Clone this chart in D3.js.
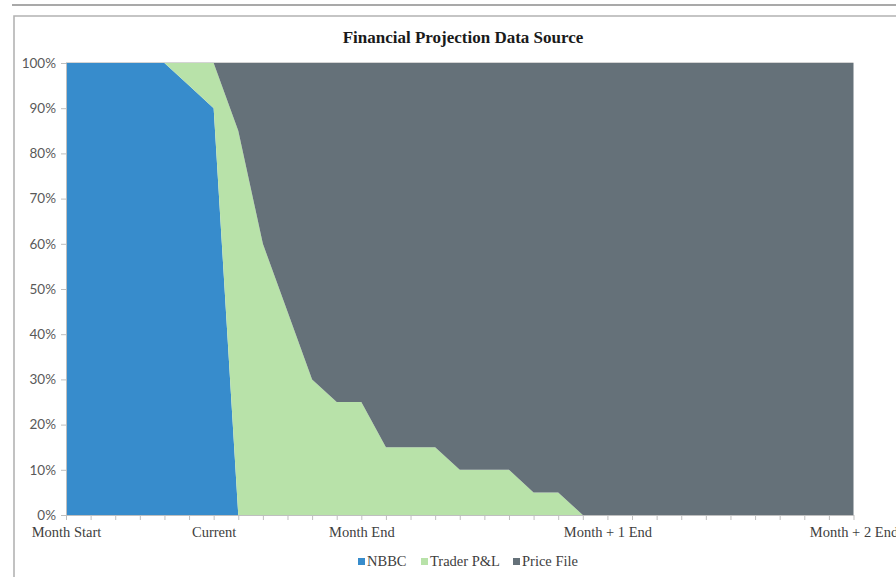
<!DOCTYPE html>
<html>
<head>
<meta charset="utf-8">
<script src="https://cdn.jsdelivr.net/npm/d3@7"></script>
<style>
  html, body { margin: 0; padding: 0; background: #fff; }
  svg { display: block; }
</style>
</head>
<body>
<svg id="chart" width="896" height="577"></svg>
<script>
// Timeline points (33 evenly spaced periods) and their axis labels
const periods = d3.range(33);
const periodLabels = [
  "Month Start", "", "", "", "", "", "Current", "", "", "", "", "",
  "Month End", "", "", "", "", "", "", "", "", "", "Month + 1 End",
  "", "", "", "", "", "", "", "", "", "Month + 2 End"
];

// Share of projection data coming from each source (%)
const nbbc = [100,100,100,100,100,95,90,0,0,0,0,0,0,0,0,0,0,0,0,0,0,0,0,0,0,0,0,0,0,0,0,0,0];
const traderPL = [0,0,0,0,0,5,10,85,60,45,30,25,25,15,15,15,10,10,10,5,5,0,0,0,0,0,0,0,0,0,0,0,0];
const priceFile = [0,0,0,0,0,0,0,15,40,55,70,75,75,85,85,85,90,90,90,95,95,100,100,100,100,100,100,100,100,100,100,100,100];

const seriesNames = ["NBBC", "Trader P&L", "Price File"];
const seriesColors = ["#378ccc", "#b8e2a9", "#657179"];
const yTicks = [0, 10, 20, 30, 40, 50, 60, 70, 80, 90, 100];

const svg = d3.select("#chart");
const W = 896, H = 577;
const plot = { left: 66, right: 853.5, top: 63, bottom: 515 };

// Outer frame
svg.append("line")
  .attr("x1", 12).attr("x2", W).attr("y1", 5).attr("y2", 5)
  .attr("stroke", "#a9a9a9").attr("stroke-width", 2);
svg.append("path")
  .attr("d", `M${W + 5},16 H14 V${H + 5}`)
  .attr("fill", "none").attr("stroke", "#b3b3b3").attr("stroke-width", 1.6);

// Title
svg.append("text")
  .attr("x", 463).attr("y", 43)
  .attr("text-anchor", "middle")
  .attr("font-family", "'Liberation Serif', 'DejaVu Serif', serif")
  .attr("font-weight", "bold")
  .attr("font-size", 17)
  .attr("fill", "#1a1a1a")
  .text("Financial Projection Data Source");

const x = d3.scalePoint().domain(periods).range([plot.left, plot.right]);
const y = d3.scaleLinear().domain([0, 100]).range([plot.bottom, plot.top]);

// Stack the three sources
const rows = periods.map(i => ({
  i, "NBBC": nbbc[i], "Trader P&L": traderPL[i], "Price File": priceFile[i]
}));
const stacked = d3.stack().keys(seriesNames)(rows);

const area = d3.area()
  .x(d => x(d.data.i))
  .y0(d => y(d[0]))
  .y1(d => y(d[1]))
  .curve(d3.curveLinear);

svg.append("g")
  .selectAll("path")
  .data(stacked)
  .join("path")
  .attr("d", area)
  .attr("fill", (d, k) => seriesColors[k]);

// Top border of the plot area
svg.append("line")
  .attr("x1", plot.left).attr("x2", plot.right)
  .attr("y1", y(100) - 0.5).attr("y2", y(100) - 0.5)
  .attr("stroke", "#d4d4d4").attr("stroke-width", 1);

// Y axis
const yAxis = d3.axisLeft(y)
  .tickValues(yTicks)
  .tickSize(5)
  .tickPadding(5)
  .tickFormat(d => d + "%");
const yG = svg.append("g")
  .attr("transform", `translate(${plot.left},0)`)
  .call(yAxis);
yG.select(".domain").attr("stroke", "#bfbfbf");
yG.selectAll(".tick line").attr("stroke", "#bfbfbf");
yG.selectAll(".tick text")
  .attr("font-family", "Lato, 'Open Sans', sans-serif")
  .attr("font-size", 13.5)
  .attr("fill", "#595959");

// X axis
const xAxis = d3.axisBottom(x)
  .tickSize(5)
  .tickPadding(7)
  .tickSizeOuter(0)
  .tickFormat(i => periodLabels[i]);
const xG = svg.append("g")
  .attr("transform", `translate(0,${plot.bottom})`)
  .call(xAxis);
xG.select(".domain").attr("stroke", "#bfbfbf");
xG.selectAll(".tick line").attr("stroke", "#bfbfbf");
xG.selectAll(".tick text")
  .attr("font-family", "'Liberation Serif', 'DejaVu Serif', serif")
  .attr("font-size", 14.5)
  .attr("fill", "#404040");

// Legend
const legendX = [358, 421, 513];
const legend = svg.append("g");
seriesNames.forEach((name, k) => {
  legend.append("rect")
    .attr("x", legendX[k]).attr("y", 558)
    .attr("width", 7).attr("height", 7)
    .attr("fill", seriesColors[k]);
  legend.append("text")
    .attr("x", legendX[k] + 9).attr("y", 566)
    .attr("font-family", "'Liberation Serif', 'DejaVu Serif', serif")
    .attr("font-size", 14.5)
    .attr("fill", "#404040")
    .text(name);
});
</script>
</body>
</html>
